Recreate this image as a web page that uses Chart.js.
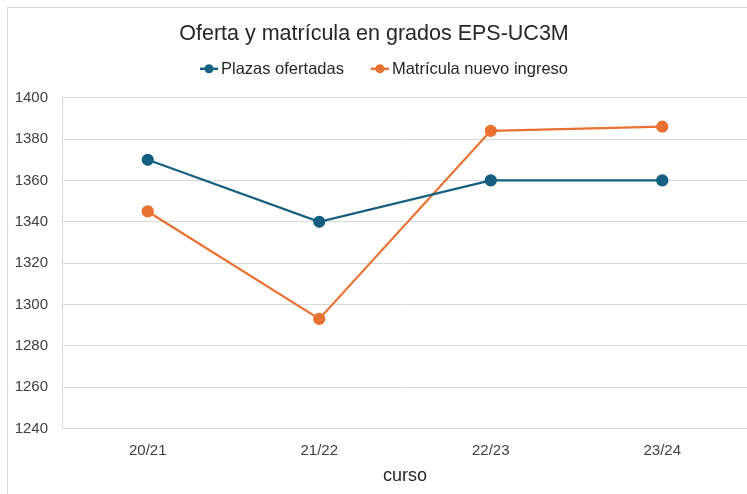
<!DOCTYPE html>
<html><head><meta charset="utf-8">
<script src="https://cdn.jsdelivr.net/npm/chart.js@4/dist/chart.umd.min.js"></script>
<style>
html,body{margin:0;padding:0;background:#fff;overflow:hidden;width:747px;height:494px;}
#frame{position:absolute;left:7px;top:7px;width:800px;height:600px;border:1px solid #d9d9d9;box-sizing:border-box;}
#wrap{position:absolute;left:0;top:0;width:768px;height:494px;}
</style></head><body>
<div id="frame"></div>
<div id="wrap"><canvas id="c" width="768" height="494"></canvas></div>
<script>
const categories = ["20/21","21/22","22/23","23/24"];
const plazasOfertadas = [1370,1340,1360,1360];
const matriculaNuevoIngreso = [1345,1293,1384,1386];
const yTicks = [1240,1260,1280,1300,1320,1340,1360,1380,1400];

const BLUE = "#156082", ORANGE = "#E97132";
const FONT = '"Liberation Sans","Arial",sans-serif';

// legend drawn in the band reserved under the title
const lineLegend = {
  id: 'lineLegend',
  afterDraw(chart) {
    const ctx = chart.ctx;
    const size = 16.5;
    ctx.save();
    ctx.font = size + 'px ' + FONT;
    ctx.textBaseline = 'middle';
    const mw = 18, gapText = 3, gapItem = 27;
    const items = chart.data.datasets.map(d => ({d, w: mw + gapText + ctx.measureText(d.label).width}));
    const total = items.reduce((s, it) => s + it.w, 0) + gapItem * (items.length - 1);
    let x = chart.width / 2 - total / 2;
    const y = chart.chartArea.top - 29;
    items.forEach(it => {
      const c = it.d.borderColor;
      ctx.strokeStyle = c; ctx.lineWidth = 2.5;
      ctx.beginPath(); ctx.moveTo(x, y); ctx.lineTo(x + mw, y); ctx.stroke();
      ctx.fillStyle = c; ctx.beginPath(); ctx.arc(x + mw / 2, y, 4.5, 0, Math.PI * 2); ctx.fill();
      ctx.fillStyle = '#262626'; ctx.textAlign = 'left';
      ctx.fillText(it.d.label, x + mw + gapText, y + 1);
      x += it.w + gapItem;
    });
    ctx.restore();
  }
};

new Chart(document.getElementById('c'), {
  type: 'line',
  data: {
    labels: categories,
    datasets: [
      {label:"Plazas ofertadas", data: plazasOfertadas, borderColor: BLUE, backgroundColor: BLUE,
       borderWidth: 2.25, pointRadius: 5, pointHoverRadius: 5, tension: 0},
      {label:"Matrícula nuevo ingreso", data: matriculaNuevoIngreso, borderColor: ORANGE, backgroundColor: ORANGE,
       borderWidth: 2.25, pointRadius: 5, pointHoverRadius: 5, tension: 0}
    ]
  },
  plugins: [lineLegend],
  options: {
    responsive: false,
    animation: false,
    layout: {padding: {left: 0, right: 20, top: 1, bottom: 7}},
    plugins: {
      title: {display: true, text: "Oferta y matrícula en grados EPS-UC3M", color: "#262626",
        font: {family: FONT, size: 21.5, weight: 'normal'}, padding: {top: 20, bottom: 51}},
      legend: {display: false},
      tooltip: {enabled: false}
    },
    scales: {
      x: {
        offset: true,
        grid: {display: false, drawTicks: false},
        border: {display: true, color: "#d9d9d9"},
        ticks: {color: "#404040", font: {family: FONT, size: 15}, padding: 13, maxRotation: 0},
        title: {display: true, text: "curso", color: "#262626", font: {family: FONT, size: 18}, padding: {top: -7, bottom: 0}}
      },
      y: {
        min: 1240, max: 1400,
        afterBuildTicks: (s) => { s.ticks = yTicks.map(v => ({value: v})); },
        afterFit: (s) => { s.width = 62; },
        grid: {color: "#d9d9d9", drawTicks: false},
        border: {display: true, color: "#d9d9d9"},
        ticks: {color: "#404040", font: {family: FONT, size: 15}, padding: 14, callback: (v) => String(v)}
      }
    }
  }
});
</script>
</body></html>
